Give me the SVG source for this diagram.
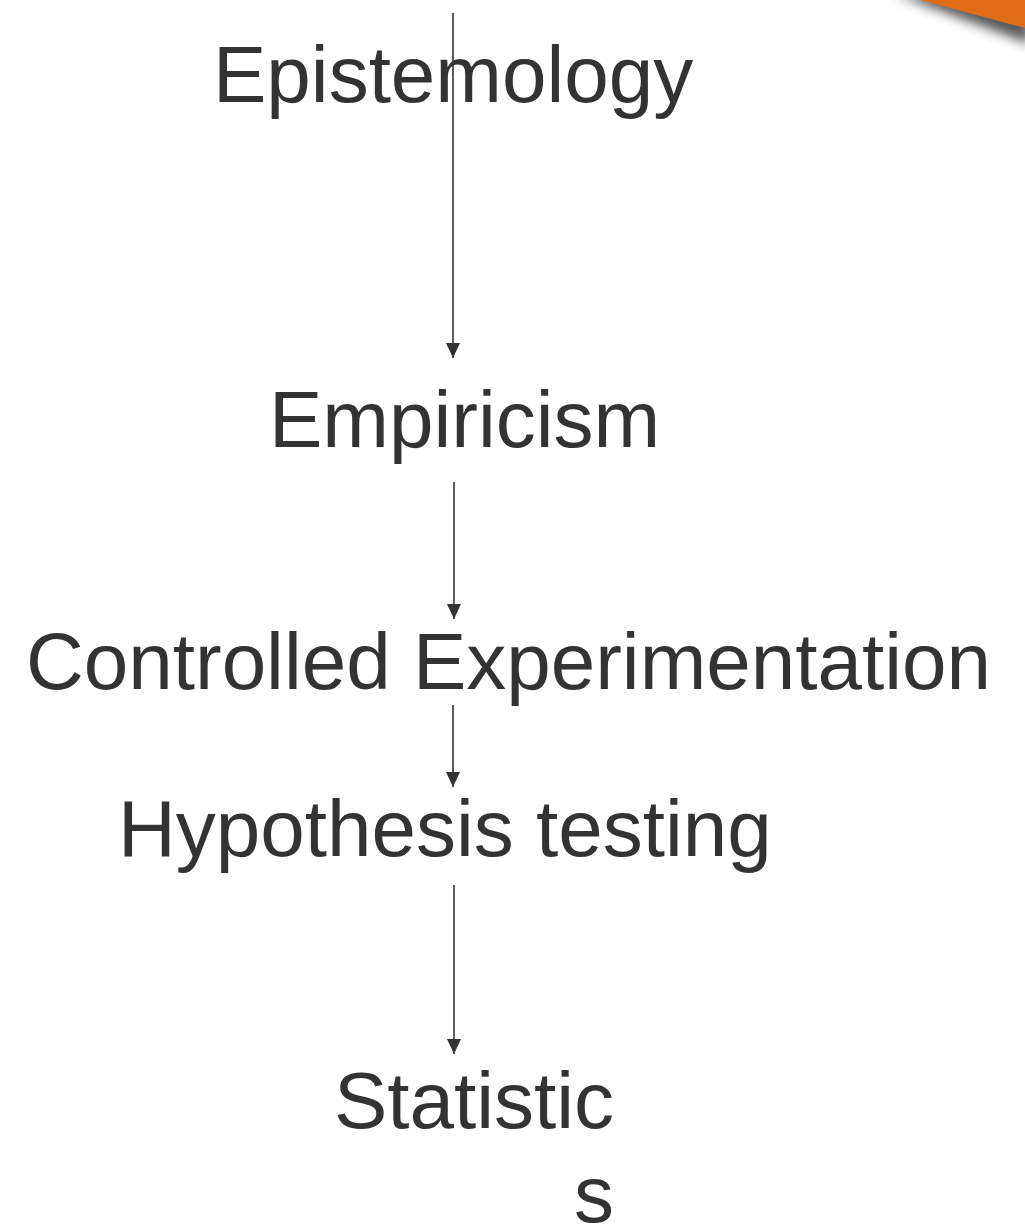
<svg xmlns="http://www.w3.org/2000/svg" width="1025" height="1229" viewBox="0 0 1025 1229">
  <defs>
    <style>
      .label { font-family: "Liberation Sans", Arial, sans-serif; font-size: 80px; fill: #333333; }
      .edge { stroke: #333333; stroke-width: 1.6; fill: none; marker-end: url(#arrow); }
    </style>
    <!-- filled triangular arrowhead, tip at the end of the line -->
    <marker id="arrow" markerUnits="userSpaceOnUse" markerWidth="15" markerHeight="14" viewBox="0 0 15 14" refX="15" refY="7" orient="auto">
      <path d="M0,0 L15,7 L0,14 Z" fill="#333333"/>
    </marker>
    <filter id="soft" x="-50%" y="-50%" width="200%" height="200%">
      <feGaussianBlur stdDeviation="6"/>
    </filter>
  </defs>

  <rect x="0" y="0" width="1025" height="1229" fill="#ffffff"/>

  <!-- corner ribbon with its drop shadow -->
  <g id="corner-ribbon">
    <polygon points="895,-6 1030,-6 1030,44" fill="#3a3a3a" opacity="0.85" filter="url(#soft)"/>
    <polygon points="920,0 1025,0 1025,28" fill="#e06b16"/>
  </g>

  <!-- connectors -->
  <g id="connectors">
    <line class="edge" x1="453" y1="13" x2="453" y2="358"/>
    <line class="edge" x1="454" y1="482" x2="454" y2="619"/>
    <line class="edge" x1="453" y1="705" x2="453" y2="787"/>
    <line class="edge" x1="454" y1="885" x2="454" y2="1054"/>
  </g>

  <!-- nodes -->
  <g id="node-epistemology">
    <text class="label" x="213" y="102">Epistemology</text>
  </g>
  <g id="node-empiricism">
    <text class="label" x="269" y="447">Empiricism</text>
  </g>
  <g id="node-controlled-experimentation">
    <text class="label" x="26" y="689">Controlled Experimentation</text>
  </g>
  <g id="node-hypothesis-testing">
    <text class="label" x="118" y="856">Hypothesis testing</text>
  </g>
  <g id="node-statistics">
    <text class="label" x="334" y="1128">Statistic</text>
    <text class="label" x="574" y="1222">s</text>
  </g>
</svg>
